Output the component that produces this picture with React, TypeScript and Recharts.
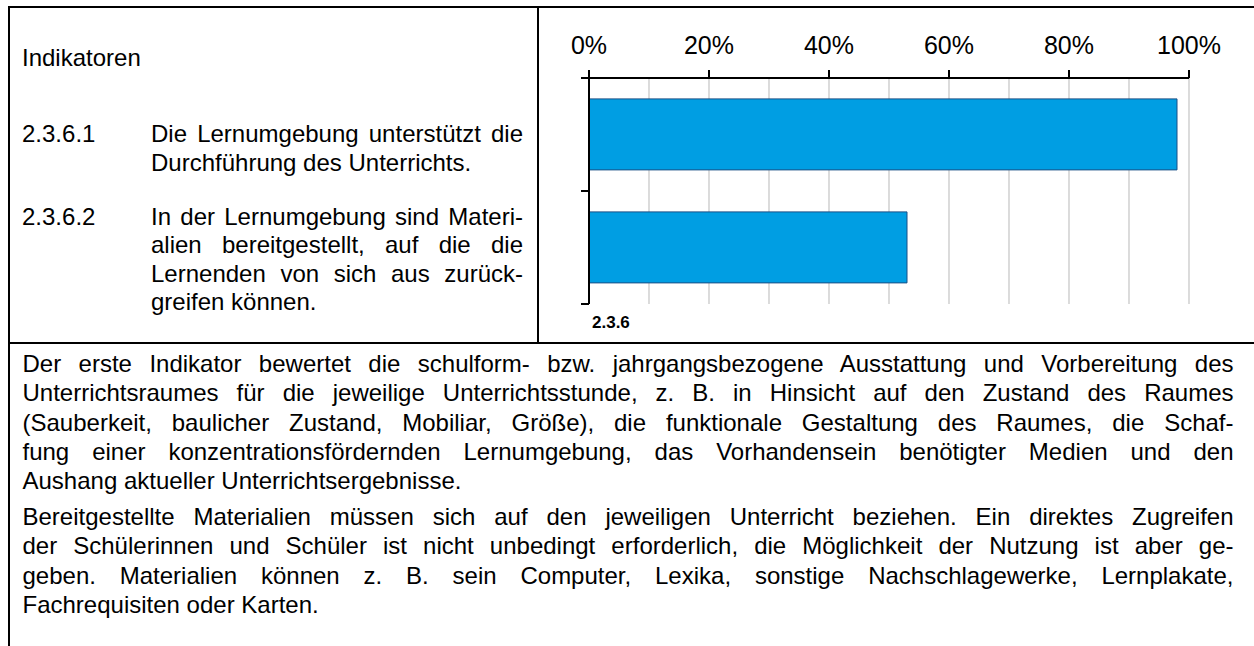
import React from 'react';
import { BarChart, Bar, XAxis, YAxis, CartesianGrid } from 'recharts';

// chart data
const categories = ['2.3.6.1', '2.3.6.2'];
const shares = [98, 53];
const gridTicks = [0, 10, 20, 30, 40, 50, 60, 70, 80, 90, 100];
const labelStep = 20;

const indicatorTexts = [
	['Die Lernumgebung unterstützt die', 'Durchführung des Unterrichts.'],
	[
		'In der Lernumgebung sind Materi-',
		'alien bereitgestellt, auf die die',
		'Lernenden von sich aus zurück-',
		'greifen können.',
	],
];

const paragraphs = [
	[
		'Der erste Indikator bewertet die schulform- bzw. jahrgangsbezogene Ausstattung und Vorbereitung des',
		'Unterrichtsraumes für die jeweilige Unterrichtsstunde, z. B. in Hinsicht auf den Zustand des Raumes',
		'(Sauberkeit, baulicher Zustand, Mobiliar, Größe), die funktionale Gestaltung des Raumes, die Schaf-',
		'fung einer konzentrationsfördernden Lernumgebung, das Vorhandensein benötigter Medien und den',
		'Aushang aktueller Unterrichtsergebnisse.',
	],
	[
		'Bereitgestellte Materialien müssen sich auf den jeweiligen Unterricht beziehen. Ein direktes Zugreifen',
		'der Schülerinnen und Schüler ist nicht unbedingt erforderlich, die Möglichkeit der Nutzung ist aber ge-',
		'geben. Materialien können z. B. sein Computer, Lexika, sonstige Nachschlagewerke, Lernplakate,',
		'Fachrequisiten oder Karten.',
	],
];

const data = categories.map((name, i) => ({ name, value: shares[i] }));

const FONT = '"Liberation Sans", Arial, Helvetica, sans-serif';
const TOP_TICK_SIZE = 8;
const TOP_TICK_MARGIN = 16;
const LEFT_TICK_SIZE = 8;

function TopTick(props: any) {
	const { x, y, payload } = props;
	if (payload.value % labelStep !== 0) return <g />;
	const axisY = y + TOP_TICK_MARGIN + TOP_TICK_SIZE;
	return (
		<g>
			<line x1={x} x2={x} y1={axisY - TOP_TICK_SIZE} y2={axisY} stroke="#000" strokeWidth={2} />
			<text x={x} y={y} textAnchor="middle" fontSize={25} fontFamily={FONT} fill="#000">
				{payload.value}%
			</text>
		</g>
	);
}

// tick marks between categories, like the source chart
function LeftTick(props: any) {
	const { x, y, height, visibleTicksCount, index } = props;
	const step = height / visibleTicksCount;
	const x2 = x + LEFT_TICK_SIZE;
	return (
		<g>
			<line x1={x} x2={x2} y1={y - step / 2} y2={y - step / 2} stroke="#000" strokeWidth={2} />
			{index === visibleTicksCount - 1 && (
				<line x1={x} x2={x2} y1={y + step / 2} y2={y + step / 2} stroke="#000" strokeWidth={2} />
			)}
		</g>
	);
}

function Lines({ lines, left, top, width, lineHeight }: any) {
	return (
		<div style={{ position: 'absolute', left, top, width }}>
			{lines.map((line: string, i: number) => {
				const last = i === lines.length - 1;
				return (
					<div
						key={i}
						style={{
							height: lineHeight,
							lineHeight: lineHeight + 'px',
							whiteSpace: 'nowrap',
							textAlign: last ? 'left' : 'justify',
							textAlignLast: last ? 'left' : 'justify',
						}}
					>
						{line}
					</div>
				);
			})}
		</div>
	);
}

export default function App() {
	const line = '#000';
	return (
		<div
			style={{
				position: 'absolute',
				left: 0,
				top: 0,
				width: 1254,
				height: 646,
				background: '#fff',
				fontFamily: FONT,
				fontSize: 24,
				color: '#000',
				overflow: 'hidden',
			}}
		>
			{/* table borders */}
			<div style={{ position: 'absolute', left: 8, top: 6, width: 1246, height: 2, background: line }} />
			<div style={{ position: 'absolute', left: 8, top: 6, width: 2, height: 640, background: line }} />
			<div style={{ position: 'absolute', left: 537, top: 6, width: 2, height: 338, background: line }} />
			<div style={{ position: 'absolute', left: 8, top: 342, width: 1246, height: 2, background: line }} />

			{/* left cell */}
			<div style={{ position: 'absolute', left: 22, top: 43.5, lineHeight: '28.6px' }}>Indikatoren</div>
			<div style={{ position: 'absolute', left: 22, top: 120, lineHeight: '28.6px' }}>{categories[0]}</div>
			<Lines lines={indicatorTexts[0]} left={151} top={120} width={372} lineHeight={28.6} />
			<div style={{ position: 'absolute', left: 22, top: 202.5, lineHeight: '28.6px' }}>{categories[1]}</div>
			<Lines lines={indicatorTexts[1]} left={151} top={202.5} width={372} lineHeight={28.6} />

			{/* chart */}
			<div style={{ position: 'absolute', left: 540, top: 0 }}>
				<BarChart
					width={714}
					height={320}
					data={data}
					layout="vertical"
					margin={{ top: 28, right: 65, bottom: 16, left: 39 }}
					barCategoryGap="18.5%"
				>
					<CartesianGrid xAxisId="top" yAxisId="left" horizontal={false} stroke="#c4c4c4" strokeWidth={1.2} />
					<XAxis
						xAxisId="top"
						orientation="top"
						type="number"
						domain={[0, 100]}
						ticks={gridTicks}
						interval={0}
						height={50}
						tickLine={false}
						tickSize={TOP_TICK_SIZE}
						tickMargin={TOP_TICK_MARGIN}
						axisLine={{ stroke: '#000', strokeWidth: 2 }}
						tick={TopTick}
					/>
					<XAxis
						xAxisId="bottom"
						orientation="bottom"
						type="number"
						domain={[0, 100]}
						height={0}
						tick={false}
						tickLine={false}
						axisLine={{ stroke: '#9a9a9a', strokeWidth: 2 }}
					/>
					<YAxis
						yAxisId="left"
						type="category"
						dataKey="name"
						width={10}
						tickLine={false}
						tickSize={LEFT_TICK_SIZE}
						tickMargin={0}
						axisLine={{ stroke: '#000', strokeWidth: 2 }}
						tick={LeftTick}
					/>
					<YAxis
						yAxisId="right"
						orientation="right"
						type="category"
						dataKey="name"
						width={0}
						tick={false}
						tickLine={false}
						axisLine={{ stroke: '#9a9a9a', strokeWidth: 2 }}
					/>
					<Bar
						dataKey="value"
						xAxisId="top"
						yAxisId="left"
						fill="#009ee3"
						stroke="#1a4f86"
						strokeWidth={1}
						isAnimationActive={false}
					/>
				</BarChart>
			</div>
			<div style={{ position: 'absolute', left: 592, top: 313, fontSize: 17, lineHeight: '20px', fontWeight: 'bold' }}>
				2.3.6
			</div>

			{/* lower cell */}
			<Lines lines={paragraphs[0]} left={22.5} top={349.3} width={1211} lineHeight={29.2} />
			<Lines lines={paragraphs[1]} left={22.5} top={502.3} width={1211} lineHeight={29.2} />
		</div>
	);
}
